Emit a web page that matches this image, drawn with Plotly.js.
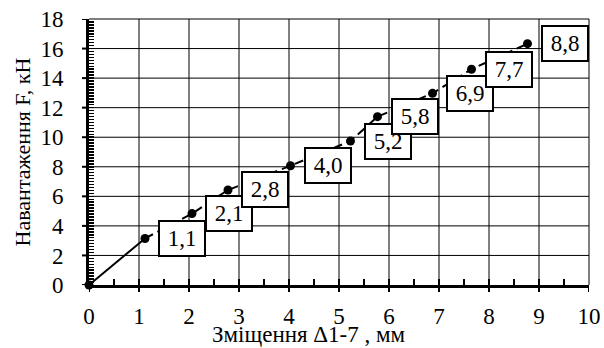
<!DOCTYPE html>
<html><head><meta charset="utf-8">
<script src="https://cdn.plot.ly/plotly-3.0.1.min.js"></script>
<style>html,body{margin:0;padding:0;background:#fff}#c{width:604px;height:348px}</style>
</head><body><div id="c"></div>
<script>
const xs = [0, 1.12, 2.06, 2.78, 4.03, 5.23, 5.77, 6.87, 7.65, 8.77];
const ys = [0, 3.15, 4.83, 6.43, 8.07, 9.74, 11.39, 12.97, 14.6, 16.33];
const labels = ["", "1,1", "2,1", "2,8", "4,0", "5,2", "5,8", "6,9", "7,7", "8,8"];
const xTicks = [0,1,2,3,4,5,6,7,8,9,10];
const yTicks = [0,2,4,6,8,10,12,14,16,18];
const xMinorStep = 0.5;
const yMinorStep = 0.2;
const xTitle = 'Зміщення Δ1-7 , мм';
const yTitle = 'Навантаження F, кН';

const FONT = "Liberation Serif";
const xr = [xTicks[0], xTicks[xTicks.length-1]];
const yr = [yTicks[0], yTicks[yTicks.length-1]];

// tick positions: every minor step, labelled only at the major values
function stepVals(r, step) {
  const out = [];
  const n = Math.round((r[1] - r[0]) / step);
  for (let i = 0; i <= n; i++) out.push(Math.round((r[0] + i * step) * 1000) / 1000);
  return out;
}
const xVals = stepVals(xr, xMinorStep);
const yVals = stepVals(yr, yMinorStep);
const xText = xVals.map(v => xTicks.includes(v) ? String(v) : '');
const yText = yVals.map(v => yTicks.includes(v) ? String(v) : '');

const traces = [
  {x: xs.slice(0,2), y: ys.slice(0,2), mode: 'lines', line: {color:'#000', width:2}, hoverinfo:'skip'},
  {x: xs.slice(1), y: ys.slice(1), mode: 'lines', line: {color:'#000', width:2, dash:'9px,5px'}, hoverinfo:'skip'},
  {x: xs, y: ys, mode: 'markers', marker: {color:'#000', size:9}, cliponaxis:false}
];
const annotations = [];
for (let i = 0; i < xs.length; i++) {
  if (!labels[i]) continue;
  annotations.push({x: xs[i], y: ys[i], xref:'x', yref:'y', text: labels[i], showarrow:false,
    xshift: 37, bgcolor:'#fff', bordercolor:'#000', borderwidth:2, borderpad:3,
    width: 38, height: 27, font:{family:FONT, size:23, color:'#000'}});
}
annotations.push({xref:'paper', yref:'paper', x:0.44, y:-63/266, xanchor:'center', yanchor:'bottom',
  showarrow:false, text:xTitle, borderpad:0, font:{family:FONT, size:23, color:'#000'}});

// grid lines and major outer ticks, placed through the axes
const shapes = [];
xTicks.forEach(v => {
  if (v > xr[0] && v < xr[1]) shapes.push({type:'line', layer:'below', xref:'x', yref:'paper', x0:v, x1:v, y0:0, y1:1, line:{color:'#000', width:1}});
  shapes.push({type:'line', layer:'above', xref:'x', yref:'paper', x0:v, x1:v, y0:-7/266, y1:0, line:{color:'#000', width:2}});
});
yTicks.forEach(v => {
  if (v > yr[0] && v < yr[1]) shapes.push({type:'line', layer:'below', xref:'paper', yref:'y', x0:0, x1:1, y0:v, y1:v, line:{color:'#000', width:1}});
  shapes.push({type:'line', layer:'above', xref:'paper', yref:'y', x0:-7/500, x1:0, y0:v, y1:v, line:{color:'#000', width:2}});
});
shapes.push({type:'line', xref:'paper', yref:'paper', x0:0, x1:1, y0:1, y1:1, line:{color:'#000', width:1}});
shapes.push({type:'line', xref:'paper', yref:'paper', x0:1, x1:1, y0:0, y1:1, line:{color:'#000', width:1}});

const layout = {
  width:604, height:348,
  margin:{l:89, r:15, t:19, b:63},
  paper_bgcolor:'#fff', plot_bgcolor:'#fff',
  showlegend:false,
  font:{family:FONT, size:23, color:'#000'},
  xaxis:{range:xr, tickmode:'array', tickvals:xVals, ticktext:xText,
    showgrid:false, showline:true, linecolor:'#000', linewidth:3,
    ticks:'inside', ticklen:6, tickwidth:2, tickcolor:'#000',
    ticklabelstandoff:8, zeroline:false, automargin:false,
    tickfont:{family:FONT, size:23}},
  yaxis:{range:yr, tickmode:'array', tickvals:yVals, ticktext:yText,
    showgrid:false, showline:true, linecolor:'#000', linewidth:3,
    ticks:'inside', ticklen:5, tickwidth:1.5, tickcolor:'#000',
    ticklabelstandoff:18, zeroline:false, automargin:false,
    tickfont:{family:FONT, size:23},
    title:{text:yTitle, font:{family:FONT, size:22}, standoff:4}},
  annotations: annotations,
  shapes: shapes
};
Plotly.newPlot('c', traces, layout, {staticPlot:true, displayModeBar:false});
</script></body></html>
